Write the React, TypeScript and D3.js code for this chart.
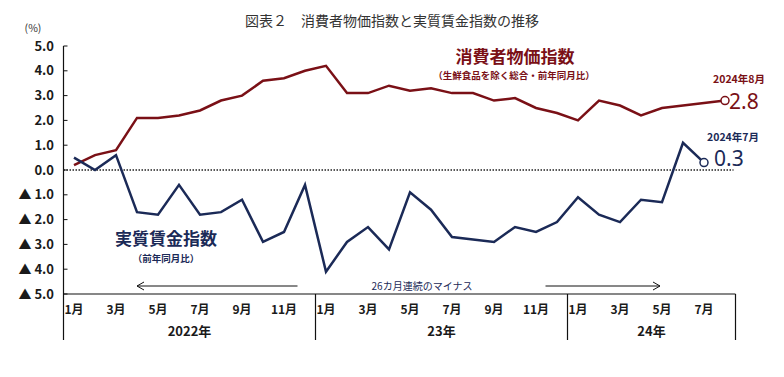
import React from "react";
import * as d3 from "d3";

const months: string[] = [
  "2022-01","2022-02","2022-03","2022-04","2022-05","2022-06","2022-07","2022-08","2022-09","2022-10","2022-11","2022-12",
  "2023-01","2023-02","2023-03","2023-04","2023-05","2023-06","2023-07","2023-08","2023-09","2023-10","2023-11","2023-12",
  "2024-01","2024-02","2024-03","2024-04","2024-05","2024-06","2024-07","2024-08",
];
const cpi: number[] = [
  0.2, 0.6, 0.8, 2.1, 2.1, 2.2, 2.4, 2.8, 3.0, 3.6, 3.7, 4.0,
  4.2, 3.1, 3.1, 3.4, 3.2, 3.3, 3.1, 3.1, 2.8, 2.9, 2.5, 2.3,
  2.0, 2.8, 2.6, 2.2, 2.5, 2.6, 2.7, 2.8,
];
const realWage: number[] = [
  0.5, 0.0, 0.6, -1.7, -1.8, -0.6, -1.8, -1.7, -1.2, -2.9, -2.5, -0.6,
  -4.1, -2.9, -2.3, -3.2, -0.9, -1.6, -2.7, -2.8, -2.9, -2.3, -2.5, -2.1,
  -1.1, -1.8, -2.1, -1.2, -1.3, 1.1, 0.3,
];
const yTicks: number[] = [5, 4, 3, 2, 1, 0, -1, -2, -3, -4, -5];
const monthLabelIdx: number[] = [0, 2, 4, 6, 8, 10, 12, 14, 16, 18, 20, 22, 24, 26, 28, 30];
const years: { label: string; start: number; end: number }[] = [
  { label: "2022年", start: 0, end: 12 },
  { label: "23年", start: 12, end: 24 },
  { label: "24年", start: 24, end: 32 },
];

const RED = "#7a1016";
const NAVY = "#1b2a57";
const FONT = "'Noto Sans CJK JP', 'Noto Sans', sans-serif";
const NUMFONT = "'Noto Sans', 'Open Sans', sans-serif";

export default function App() {
  const left = 63.5;
  const right = 735.5;
  const top = 46;
  const bottom = 294;

  const x = d3.scaleBand<number>().domain(months.map((_, i) => i)).range([left, right]).paddingInner(0).paddingOuter(0);
  const cx = (i: number) => (x(i) as number) + x.bandwidth() / 2;
  const y = d3.scaleLinear().domain([-5, 5]).range([bottom, top]);

  const line = d3.line<number>().x((_, i) => cx(i)).y((d) => y(d));

  const fmt = (v: number) => (v < 0 ? `▲ ${Math.abs(v).toFixed(1)}` : v.toFixed(1));

  const lastCpi = cpi.length - 1;
  const lastW = realWage.length - 1;

  const arrowHead = (xTip: number, yy: number, dir: number) =>
    `M${xTip + dir * 7},${yy - 4} L${xTip},${yy} L${xTip + dir * 7},${yy + 4}`;

  return (
    <svg width={784} height={377} style={{ position: "absolute", left: 0, top: 0, background: "#fff" }} fontFamily={FONT}>
      <text x={392} y={26} textAnchor="middle" fontSize={14} fill="#333">図表２　消費者物価指数と実質賃金指数の推移</text>
      <text x={33} y={32} textAnchor="middle" fontSize={10.5} fill="#333">(%)</text>

      {/* y axis */}
      <line x1={left} x2={left} y1={top} y2={340} stroke="#111" strokeWidth={1.2} />
      {yTicks.map((t) => (
        <g key={t}>
          <line x1={left} x2={left + 4} y1={y(t)} y2={y(t)} stroke="#111" strokeWidth={1} />
          <text x={54} y={y(t)} dy="0.36em" textAnchor="end" fontSize={13} fontWeight={700} fill="#1a1a1a">{fmt(t)}</text>
        </g>
      ))}

      {/* x axis */}
      <line x1={left} x2={right} y1={bottom} y2={bottom} stroke="#111" strokeWidth={1.2} />
      {years.map((yr) => (
        <g key={yr.label}>
          <line x1={x(yr.end) ?? right} x2={x(yr.end) ?? right} y1={bottom} y2={340} stroke="#111" strokeWidth={1.2} />
          <text x={((x(yr.start) as number) + (x(yr.end) ?? right)) / 2} y={336} textAnchor="middle" fontSize={13} fontWeight={700} fill="#1a1a1a">{yr.label}</text>
        </g>
      ))}
      {monthLabelIdx.map((i) => (
        <text key={i} x={cx(i)} y={314} textAnchor="middle" fontSize={12} fontWeight={700} fill="#1a1a1a">
          {`${+months[i].slice(5)}月`}
        </text>
      ))}

      {/* zero line */}
      <line x1={left} x2={right - 2} y1={y(0)} y2={y(0)} stroke="#222" strokeWidth={1.3} strokeDasharray="1.5,1.5" />

      {/* lines */}
      <path d={line(cpi) as string} fill="none" stroke={RED} strokeWidth={2.5} strokeLinejoin="miter" />
      <path d={line(realWage) as string} fill="none" stroke={NAVY} strokeWidth={2.5} strokeLinejoin="miter" />
      <circle cx={cx(lastCpi)} cy={y(cpi[lastCpi])} r={4} fill="#fff" stroke={RED} strokeWidth={1.5} />
      <circle cx={cx(lastW)} cy={y(realWage[lastW])} r={4} fill="#fff" stroke={NAVY} strokeWidth={1.5} />

      {/* end labels */}
      <text x={739} y={82.5} textAnchor="middle" fontSize={10.5} fontWeight={700} fill={RED}>2024年8月</text>
      <text x={729} y={108.5} fontSize={21} fontFamily={NUMFONT} fill={RED}>{cpi[lastCpi].toFixed(1)}</text>
      <text x={733} y={140.5} textAnchor="middle" fontSize={10.5} fontWeight={700} fill={NAVY}>2024年7月</text>
      <text x={714} y={165.5} fontSize={21} fontFamily={NUMFONT} fill={NAVY}>{realWage[lastW].toFixed(1)}</text>

      {/* legends */}
      <text x={515} y={62.5} textAnchor="middle" fontSize={17} fontWeight={700} fill={RED}>消費者物価指数</text>
      <text x={514} y={79} textAnchor="middle" fontSize={9.5} fontWeight={700} fill={RED}>（生鮮食品を除く総合・前年同月比）</text>
      <text x={166} y={245} textAnchor="middle" fontSize={17} fontWeight={700} fill={NAVY}>実質賃金指数</text>
      <text x={166} y={261.5} textAnchor="middle" fontSize={9.5} fontWeight={700} fill={NAVY}>（前年同月比）</text>

      {/* annotation */}
      <text x={422} y={290} textAnchor="middle" fontSize={10} fill={NAVY}>26カ月連続のマイナス</text>
      <line x1={297.5} x2={137} y1={286} y2={286} stroke="#111" strokeWidth={1} />
      <path d={arrowHead(137, 286, 1)} fill="none" stroke="#111" strokeWidth={1} />
      <line x1={545.5} x2={660} y1={286} y2={286} stroke="#111" strokeWidth={1} />
      <path d={arrowHead(660, 286, -1)} fill="none" stroke="#111" strokeWidth={1} />
    </svg>
  );
}
